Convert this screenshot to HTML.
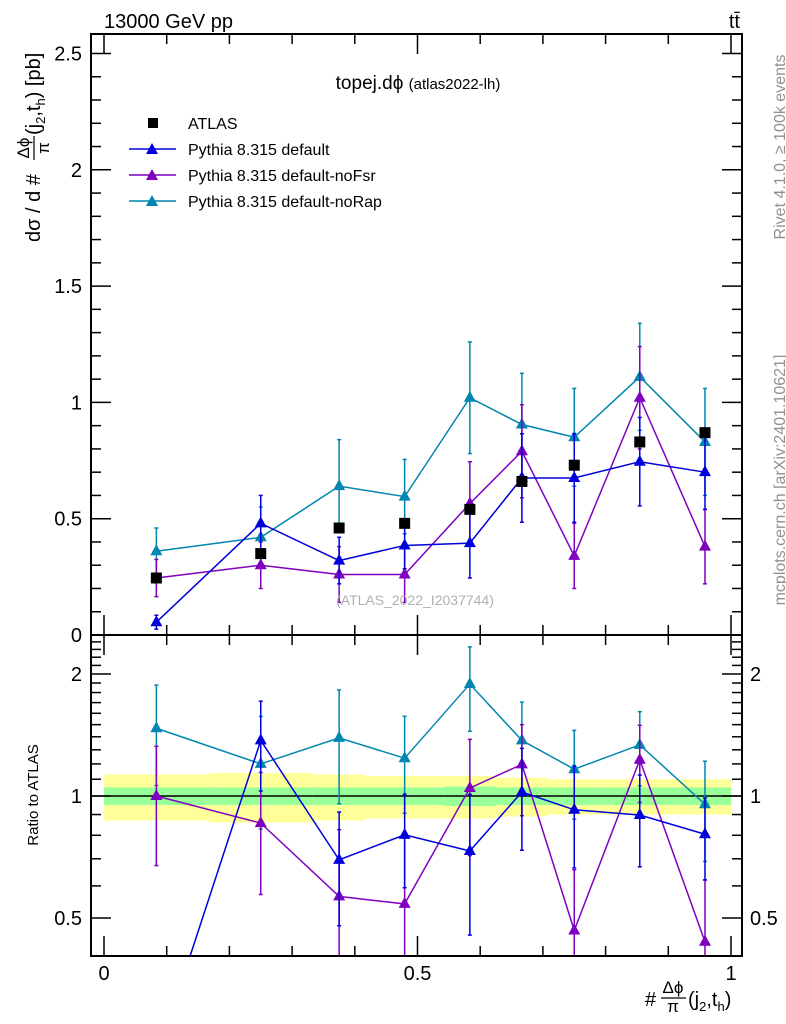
<!DOCTYPE html>
<html><head><meta charset="utf-8"><style>
html,body{margin:0;padding:0;background:#fff;overflow:hidden;width:786px;height:1024px;}
svg{display:block;position:absolute;left:0;top:0;font-family:"Liberation Sans",Arial,sans-serif;}
</style></head><body>
<svg id="c" width="786" height="1024" viewBox="0 0 786 1024">
<rect x="0" y="0" width="786" height="1024" fill="#fff"/>
<g id="bands"></g>
<g id="ticks"></g>
<g id="marks"></g>
<rect x="91" y="34" width="651" height="601" fill="none" stroke="#000" stroke-width="2"/>
<rect x="91" y="635" width="651" height="321" fill="none" stroke="#000" stroke-width="2"/>
<text x="104" y="28" font-size="20">13000 GeV pp</text>
<text x="740" y="28" font-size="20" text-anchor="end">tt̄</text>
<text x="418" y="89" font-size="19" text-anchor="middle">topej.dϕ <tspan font-size="15">(atlas2022-lh)</tspan></text>
<text x="415" y="605" font-size="14" fill="#b0b0b0" text-anchor="middle">(ATLAS_2022_I2037744)</text>
<g>
<rect x="148" y="118" width="10" height="10" fill="#000"/>
<text x="188" y="129" font-size="16">ATLAS</text>
<line x1="129" y1="149" x2="176" y2="149" stroke="#0000dd" stroke-width="1.5"/><path d="M152,143 L158,154 L146,154Z" fill="#0000dd"/>
<text x="188" y="155" font-size="16">Pythia 8.315 default</text>
<line x1="129" y1="175" x2="176" y2="175" stroke="#7f00bf" stroke-width="1.5"/><path d="M152,169 L158,180 L146,180Z" fill="#7f00bf"/>
<text x="188" y="181" font-size="16">Pythia 8.315 default-noFsr</text>
<line x1="129" y1="201" x2="176" y2="201" stroke="#0086b0" stroke-width="1.5"/><path d="M152,195 L158,206 L146,206Z" fill="#0086b0"/>
<text x="188" y="207" font-size="16">Pythia 8.315 default-noRap</text>
</g>
<g transform="translate(40,242) rotate(-90)">
<text x="0" y="0" font-size="20">dσ / d #</text>
<text x="94" y="-11" font-size="17" text-anchor="middle">Δϕ</text>
<line x1="82" x2="106" y1="-6" y2="-6" stroke="#000" stroke-width="1.2"/>
<text x="94" y="9" font-size="17" text-anchor="middle">π</text>
<text x="107" y="0" font-size="20">(j<tspan font-size="13" dy="5">2</tspan><tspan dy="-5">,t</tspan><tspan font-size="13" dy="5">h</tspan><tspan dy="-5">) [pb]</tspan></text>
</g>
<text transform="translate(38,795) rotate(-90)" font-size="15" text-anchor="middle">Ratio to ATLAS</text>
<g>
<text x="645" y="1006" font-size="20">#</text>
<text x="673" y="993" font-size="17" text-anchor="middle">Δϕ</text>
<line x1="661" x2="686" y1="998" y2="998" stroke="#000" stroke-width="1.2"/>
<text x="673" y="1012" font-size="17" text-anchor="middle">π</text>
<text x="688" y="1006" font-size="20">(j<tspan font-size="13" dy="5">2</tspan><tspan dy="-5">,t</tspan><tspan font-size="13" dy="5">h</tspan><tspan dy="-5">)</tspan></text>
</g>
<text transform="translate(785,147) rotate(-90)" font-size="16" fill="#909090" text-anchor="middle">Rivet 4.1.0, ≥ 100k events</text>
<text transform="translate(785,480) rotate(-90)" font-size="16" fill="#909090" text-anchor="middle">mcplots.cern.ch [arXiv:2401.10621]</text>
</svg>
<script>
const edges=[0,0.167,0.333,0.417,0.542,0.625,0.708,0.792,0.917,1.0];
const atlas=[0.245,0.35,0.46,0.48,0.54,0.66,0.73,0.83,0.87];
const bandStat=[0.05,0.05,0.05,0.05,0.055,0.05,0.05,0.05,0.05];
const bandTot=[0.13,0.14,0.13,0.12,0.12,0.11,0.1,0.1,0.1];
const defVals=[0.055,0.48,0.32,0.385,0.395,0.675,0.675,0.745,0.70];
const defErr=[0.03,0.12,0.10,0.10,0.15,0.19,0.19,0.19,0.16];
const fsrVals=[0.245,0.30,0.26,0.26,0.565,0.79,0.34,1.02,0.38];
const fsrErr=[0.08,0.1,0.12,0.12,0.18,0.2,0.14,0.22,0.16];
const rapVals=[0.36,0.42,0.64,0.595,1.02,0.905,0.85,1.11,0.83];
const rapErr=[0.1,0.13,0.2,0.16,0.24,0.22,0.21,0.23,0.23];
const yTicks=[0,0.5,1,1.5,2,2.5];
const yTickLabels=["0","0.5","1","1.5","2","2.5"];
const xTicks=[0,0.5,1];
const xTickLabels=["0","0.5","1"];
const rTicks=[0.5,1,2];
const rTickLabels=["0.5","1","2"];
const NS="http://www.w3.org/2000/svg";
const X=v=>104+v*627;
const Y=v=>635-v*232.6;
const R=v=>796-122*Math.log2(v);
function el(parent,tag,attrs){const e=document.createElementNS(NS,tag);for(const k in attrs)e.setAttribute(k,attrs[k]);document.getElementById(parent).appendChild(e);return e;}
const mids=edges.slice(0,-1).map((e,i)=>(e+edges[i+1])/2);
for(let i=0;i<atlas.length;i++){
 const x1=Math.max(X(edges[i]),92),x2=X(edges[i+1]);
 let b=el('bands','rect',{x:x1,y:R(1+bandTot[i]),width:x2-x1,height:R(1-bandTot[i])-R(1+bandTot[i]),fill:'#ffff99'});
 
 
 let g=el('bands','rect',{x:x1,y:R(1+bandStat[i]),width:x2-x1,height:R(1-bandStat[i])-R(1+bandStat[i]),fill:'#99ff99'});
 
 
}
el('bands','line',{x1:92,x2:741,y1:R(1),y2:R(1),stroke:'#000','stroke-width':1.5});
for(let v=0;v<=2.55;v+=0.1){const maj=Math.abs(v*2-Math.round(v*2))<1e-6;const y=Y(v);
 el('ticks','line',{x1:91,x2:91+(maj?20:10),y1:y,y2:y,stroke:'#000','stroke-width':1.5});
 el('ticks','line',{x1:742,x2:742-(maj?20:10),y1:y,y2:y,stroke:'#000','stroke-width':1.5});}
yTicks.forEach((v,i)=>{const t=el('ticks','text',{x:82,y:Y(v)+7,'font-size':20,'text-anchor':'end'});t.textContent=yTickLabels[i];
 
 });
[0.4,0.5,0.6,0.7,0.8,0.9,1,1.1,1.2,1.3,1.4,1.5,1.6,1.7,1.8,1.9,2,2.1,2.2,2.3,2.4,2.5].forEach(v=>{const maj=[0.5,1,2].some(m=>Math.abs(m-v)<1e-6);const y=R(v);if(y<636||y>955)return;
 el('ticks','line',{x1:91,x2:91+(maj?20:10),y1:y,y2:y,stroke:'#000','stroke-width':1.5});
 el('ticks','line',{x1:742,x2:742-(maj?20:10),y1:y,y2:y,stroke:'#000','stroke-width':1.5});});
rTicks.forEach((v,i)=>{const y=R(v)+7;
 let t=el('ticks','text',{x:82,y:y,'font-size':20,'text-anchor':'end'});t.textContent=rTickLabels[i];
 
 
 let t2=el('ticks','text',{x:750,y:y,'font-size':20});t2.textContent=rTickLabels[i];
 
 });
for(let k=0;k<=10;k++){const v=k/10,maj=k%5==0,x=X(v);
 [[635,635-(maj?20:10)],[635,635+(maj?20:10)],[956,956-(maj?20:10)],[34,34+(maj?20:10)]].forEach(p=>el('ticks','line',{x1:x,x2:x,y1:p[0],y2:p[1],stroke:'#000','stroke-width':1.5}));}
xTicks.forEach((v,i)=>{const t=el('ticks','text',{x:X(v),y:980,'font-size':20,'text-anchor':'middle'});t.textContent=xTickLabels[i];
 
 });
const defs=el('c','defs',{});
const cp=document.createElementNS(NS,'clipPath');cp.setAttribute('id','rc');defs.appendChild(cp);
const cr=document.createElementNS(NS,'rect');cr.setAttribute('x',92);cr.setAttribute('y',636);cr.setAttribute('width',649);cr.setAttribute('height',319);cp.appendChild(cr);
const cp2=document.createElementNS(NS,'clipPath');cp2.setAttribute('id','tc');defs.appendChild(cp2);
const cr2=document.createElementNS(NS,'rect');cr2.setAttribute('x',92);cr2.setAttribute('y',35);cr2.setAttribute('width',649);cr2.setAttribute('height',599);cp2.appendChild(cr2);
const gt=el('marks','g',{'clip-path':'url(#tc)'});gt.setAttribute('id','gt');
const gr=el('marks','g',{'clip-path':'url(#rc)'});gr.setAttribute('id','gr');
function series(vals,errs,color,name){
 const pts=vals.map((v,i)=>X(mids[i])+','+Y(v)).join(' ');
 let pl=el('gt','polyline',{points:pts,fill:'none',stroke:color,'stroke-width':1.5});
 
 
 vals.forEach((v,i)=>{const x=X(mids[i]);
  el('gt','line',{x1:x,x2:x,y1:Y(v-errs[i]),y2:Y(v+errs[i]),stroke:color,'stroke-width':1.5});
  el('gt','line',{x1:x-2,x2:x+2,y1:Y(v-errs[i]),y2:Y(v-errs[i]),stroke:color,'stroke-width':1.5});
  el('gt','line',{x1:x-2,x2:x+2,y1:Y(v+errs[i]),y2:Y(v+errs[i]),stroke:color,'stroke-width':1.5});
  let m=el('gt','path',{d:`M${x},${Y(v)-7} L${x+6},${Y(v)+4} L${x-6},${Y(v)+4}Z`,fill:color});
  
  });
 const rv=vals.map((v,i)=>v/atlas[i]);
 let rl=el('gr','polyline',{points:rv.map((v,i)=>X(mids[i])+','+R(v)).join(' '),fill:'none',stroke:color,'stroke-width':1.5});
 
 
 rv.forEach((v,i)=>{const x=X(mids[i]),e=errs[i]/atlas[i];const lo=R(Math.max(v-e,0.01)),hi=R(v+e);
  el('gr','line',{x1:x,x2:x,y1:lo,y2:hi,stroke:color,'stroke-width':1.5});
  el('gr','line',{x1:x-2,x2:x+2,y1:lo,y2:lo,stroke:color,'stroke-width':1.5});
  el('gr','line',{x1:x-2,x2:x+2,y1:hi,y2:hi,stroke:color,'stroke-width':1.5});
  let m=el('gr','path',{d:`M${x},${R(v)-7} L${x+6},${R(v)+4} L${x-6},${R(v)+4}Z`,fill:color});
  
  });
}
series(rapVals,rapErr,'#0086b0','norap');
series(fsrVals,fsrErr,'#7f00bf','nofsr');
series(defVals,defErr,'#0000dd','default');
atlas.forEach((v,i)=>{const x=X(mids[i]);
 let r=el('gt','rect',{x:x-5.5,y:Y(v)-5.5,width:11,height:11,fill:'#000'});
 
 });
</script>
</body></html>
